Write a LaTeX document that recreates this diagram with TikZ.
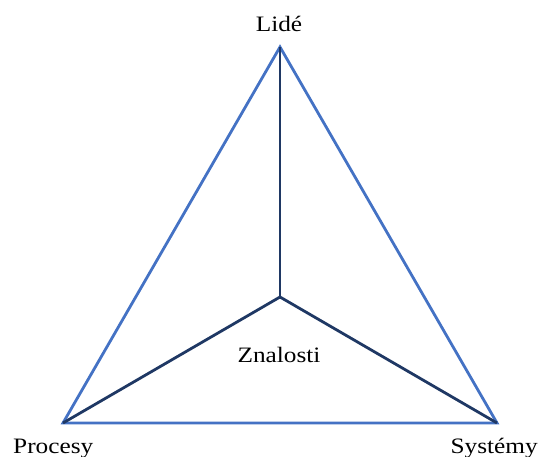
\documentclass[tikz,border=0pt]{standalone}
\usepackage{fontspec}
\setmainfont{Liberation Serif}
\usepackage{tikz}
\usetikzlibrary{positioning, calc}
\definecolor{outerblue}{HTML}{4472C4}
\definecolor{innernavy}{HTML}{1F3864}
\tikzstyle{outer} = [outerblue, line width=2.8pt, line join=miter]
\tikzstyle{inner} = [innernavy, line width=2.8pt]

\begin{document}
\begin{tikzpicture}[x=1pt, y=-1pt, every node/.style={font=\fontsize{22}{24}\selectfont, inner sep=0pt, xscale=1.15, transform shape}]
    \useasboundingbox (0,0) rectangle (541,457);
    \coordinate (top) at (280,47);
    \coordinate (left) at (63,423);
    \coordinate (right) at (497,423);
    \coordinate (mid) at (280,297);

    \draw[outer] (top) -- (left) -- (right) -- cycle;
    \draw[inner] (mid) -- (top);
    \draw[inner] (mid) -- (left);
    \draw[inner] (mid) -- (right);

    \node (lide) [anchor=base] at (279,32) {Lidé};
    \node (procesy) [anchor=base west] at (13,453) {Procesy};
    \node (systemy) [anchor=base east] at (538,453) {Systémy};
    \node (znalosti) [anchor=base] at (279,362) {Znalosti};
\end{tikzpicture}
\end{document}
